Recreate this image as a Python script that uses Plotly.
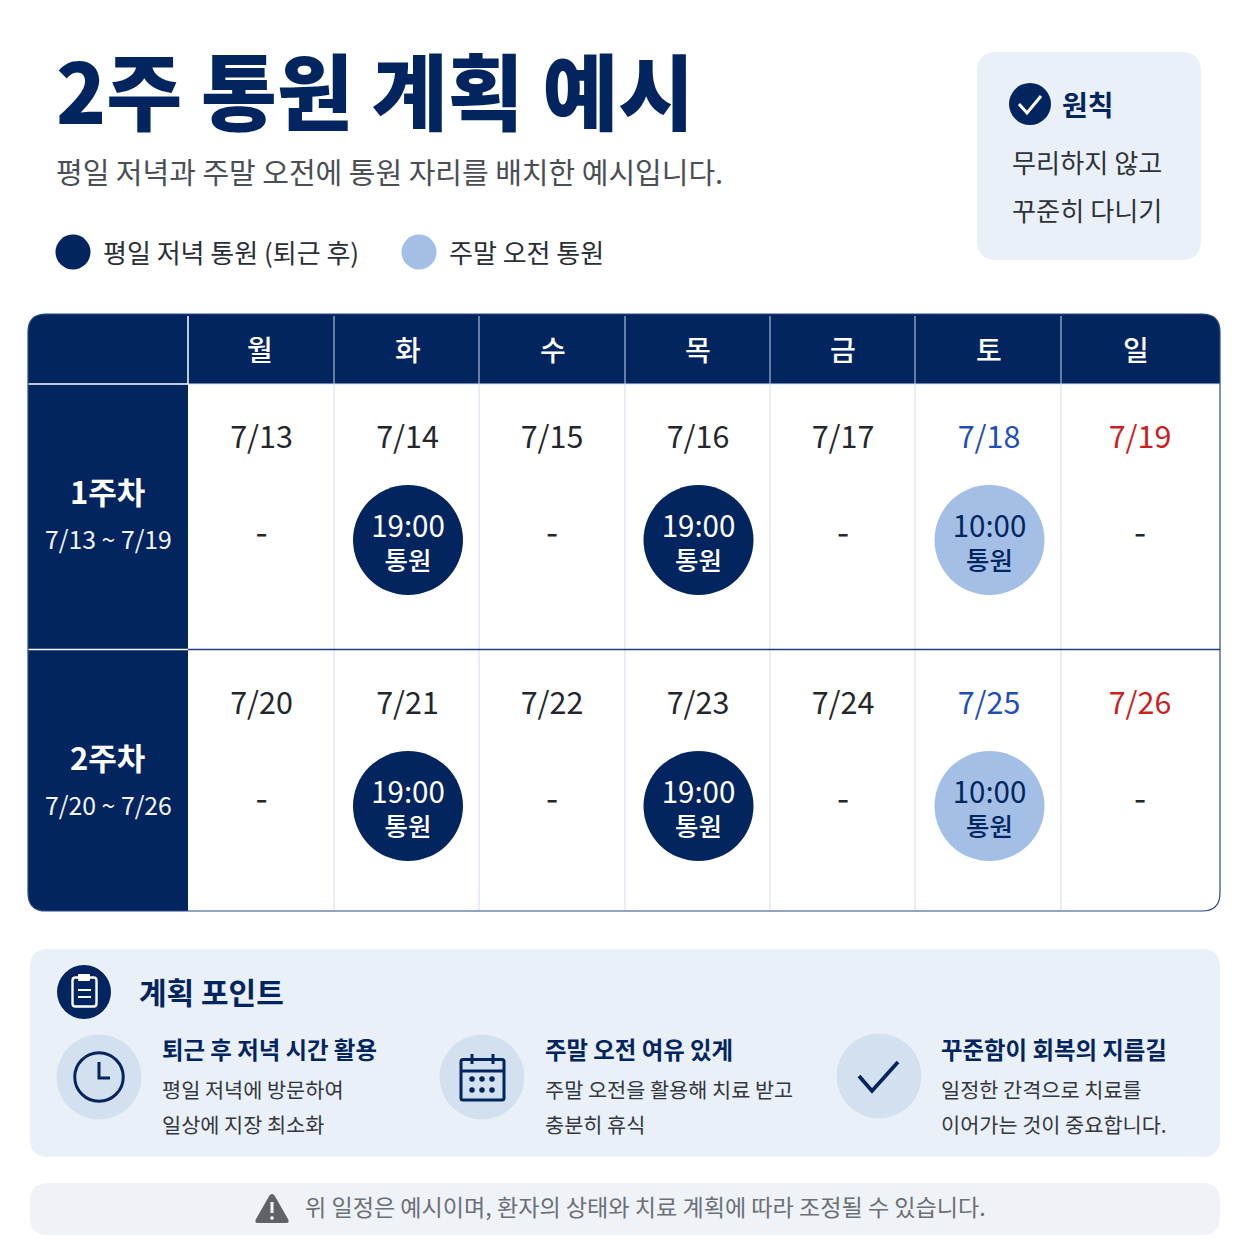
import plotly.graph_objects as go

# table content
day_names = ["월", "화", "수", "목", "금", "토", "일"]
week_names = ["1주차", "2주차"]
week_ranges = ["7/13 ~ 7/19", "7/20 ~ 7/26"]
week1_dates = ["7/13", "7/14", "7/15", "7/16", "7/17", "7/18", "7/19"]
week2_dates = ["7/20", "7/21", "7/22", "7/23", "7/24", "7/25", "7/26"]
visit_times = [None, "19:00", None, "19:00", None, "10:00", None]
visit_label = "통원"

# other text
title = "2주 통원 계획 예시"
subtitle = "평일 저녁과 주말 오전에 통원 자리를 배치한 예시입니다."
legend_labels = ["평일 저녁 통원 (퇴근 후)", "주말 오전 통원"]
rule_lines = ["무리하지 않고", "꾸준히 다니기"]
point_heads = ["퇴근 후 저녁 시간 활용", "주말 오전 여유 있게", "꾸준함이 회복의 지름길"]
point_line1 = ["평일 저녁에 방문하여", "주말 오전을 활용해 치료 받고", "일정한 간격으로 치료를"]
point_line2 = ["일상에 지장 최소화", "충분히 휴식", "이어가는 것이 중요합니다."]
note = "위 일정은 예시이며, 환자의 상태와 치료 계획에 따라 조정될 수 있습니다."

# layout of the table
col_edges = [188, 334, 479, 625, 770, 915, 1061]
col_centers = [261.5, 407.5, 552, 698, 843, 989, 1140]
head_centers = [260, 408, 553, 698, 843, 989, 1136]
week_tops = [384, 650]

NAVY = "#03255f"
LIGHT = "#a3bfe6"
CARD = "#eaf0f8"
ICON_BG = "#d3e0ef"
GRID = "#d9e2f1"
FONT = "Noto Sans CJK KR"


def rounded(x0, y0, x1, y1, tl=0, tr=0, br=0, bl=0):
    return (f"M{x0+tl},{y0} L{x1-tr},{y0} Q{x1},{y0} {x1},{y0+tr} "
            f"L{x1},{y1-br} Q{x1},{y1} {x1-br},{y1} "
            f"L{x0+bl},{y1} Q{x0},{y1} {x0},{y1-bl} "
            f"L{x0},{y0+tl} Q{x0},{y0} {x0+tl},{y0} Z")


shapes = []


def fill_path(path, color, layer="below"):
    shapes.append(dict(type="path", path=path, fillcolor=color, line_width=0, layer=layer))


def line_path(path, color=NAVY, width=2, layer="above"):
    shapes.append(dict(type="path", path=path, line=dict(color=color, width=width), layer=layer))


def circle(cx, cy, d, fill=None, color=None, width=0, layer="below"):
    shapes.append(dict(type="circle", x0=cx - d / 2, x1=cx + d / 2, y0=cy - d / 2, y1=cy + d / 2,
                       fillcolor=fill if fill else "rgba(0,0,0,0)",
                       line=dict(color=color if color else "rgba(0,0,0,0)", width=width), layer=layer))


annotations = []


def label(x, y, text, size, color="#2e3238", weight=400, anchor="left"):
    # left aligned text sits a little right and low of the given point, pull it back
    if anchor == "left":
        x -= 2.5
        y -= 1.5
    annotations.append(dict(x=x, y=y, text=text, showarrow=False, xanchor=anchor, yanchor="middle",
                            font=dict(family=FONT, size=size, color=color, weight=weight)))


# cards
fill_path(rounded(977, 52, 1201, 260, 20, 20, 20, 20), CARD)
fill_path(rounded(30, 949, 1220, 1157, 18, 18, 18, 18), CARD)
fill_path(rounded(30, 1183, 1220, 1235, 18, 18, 18, 18), "#eff2f7")

# table body, header and week column
fill_path(rounded(28, 314, 1220, 911, 18, 18, 18, 18), "#ffffff")
fill_path(rounded(28, 314, 1220, 384, 18, 18, 0, 0), NAVY)
fill_path(rounded(28, 384, 188, 911, 0, 0, 0, 18), NAVY)
for x in col_edges[1:]:
    line_path(f"M{x},384 L{x},911", GRID, 1.2, "below")
for x in col_edges:
    line_path(f"M{x},316 L{x},384", "#ffffff" if x == 188 else "#c9d5ea", 1.5 if x == 188 else 1, "below")
line_path("M28,384 L188,384", "#ffffff", 1.5, "below")
line_path("M188,384 L1220,384", GRID, 1, "below")
line_path("M28,649.5 L188,649.5", "#ffffff", 1.5, "below")
line_path("M188,649.5 L1220,649.5", "#1d3f7e", 1.5, "below")
line_path(rounded(28, 314, 1220, 911, 18, 18, 18, 18), "#2a4a86", 1.2, "below")

# title block
label(56, 89, title, 82.5, NAVY, 900)
label(56, 172.5, subtitle, 29, "#4a4e55")
circle(73, 252, 35, NAVY)
circle(419, 252, 35, LIGHT)
label(103, 252.5, legend_labels[0], 26, "#2a2e35")
label(449, 252.5, legend_labels[1], 26, "#2a2e35")

# principle card
circle(1030, 104, 42, NAVY)
line_path("M1019,104 L1027,113 L1041,96", "#ffffff", 3)
label(1062, 105.5, "원칙", 28, NAVY, 700)
label(1012, 163, rule_lines[0], 26.2)
label(1012, 211, rule_lines[1], 26.2)

# table head and week labels
for x, day in zip(head_centers, day_names):
    label(x, 349, day, 28, "#ffffff", 500, "center")
for top, name, span in zip(week_tops, week_names, week_ranges):
    label(107.5, top + 106.5, name, 31, "#ffffff", 700, "center")
    label(108.5, top + 154, span, 24.8, "#f2f5fb", 400, "center")

# points card
circle(84, 992, 54, NAVY)
line_path(rounded(72.5, 977.5, 96.5, 1006.5, 3, 3, 3, 3), "#ffffff", 2.4)
fill_path(rounded(78, 974, 90, 981, 1, 1, 1, 1), "#ffffff", "above")
line_path("M78,990 L91,990 M78,997 L91,997", "#ffffff", 2.2)
label(139, 992.5, "계획 포인트", 30, NAVY, 700)

circle(99, 1077, 85, ICON_BG)
circle(99, 1077, 48.5, None, NAVY, 3, "above")
line_path("M99,1062 L99,1078 L110,1078", NAVY, 3)

circle(482, 1077, 85, ICON_BG)
line_path(rounded(461, 1059.5, 504, 1100, 2, 2, 2, 2), NAVY, 3)
line_path("M461,1071 L504,1071 M472,1054 L472,1064 M493,1054 L493,1064", NAVY, 3)
for cx in [472, 482, 492]:
    for cy in [1079, 1090]:
        circle(cx, cy, 5.5, NAVY, layer="above")

circle(879, 1076, 85, ICON_BG)
line_path("M859,1076 L872,1091 L898,1062", NAVY, 3.8)

for x, head, l1, l2 in zip([162, 545, 941], point_heads, point_line1, point_line2):
    label(x, 1050.5, head, 23.4, NAVY, 700)
    label(x, 1090.5, l1, 20.8, "#33373e")
    label(x, 1125.5, l2, 20.8, "#33373e")

# footer
fill_path("M272,1194 Q274,1194 276,1198 L288,1219 Q290,1223 286,1223 L258,1223 Q254,1223 256,1219 "
          "L268,1198 Q270,1194 272,1194 Z", "#5f6368")
line_path("M272,1202 L272,1213", "#ffffff", 3)
circle(272, 1218, 3.5, "#ffffff", layer="above")
label(305, 1207.5, note, 23.1, "#6b6f76")

fig = go.Figure()

# dates, dashes and visit circles for each week
date_colors = ["#23262b"] * 5 + ["#1f4fb4", "#cc1f1f"]
for top, dates in zip(week_tops, [week1_dates, week2_dates]):
    fig.add_trace(go.Scatter(
        x=col_centers, y=[top + 56] * 7, mode="text", text=dates,
        textfont=dict(family=FONT, size=30.5, color=date_colors), cliponaxis=False, hoverinfo="skip"))
    empty = [x for x, t in zip(col_centers, visit_times) if t is None]
    fig.add_trace(go.Scatter(
        x=empty, y=[top + 152] * len(empty), mode="text", text=["-"] * len(empty),
        textfont=dict(family=FONT, size=35, color="#23262b"), cliponaxis=False, hoverinfo="skip"))
    visit_x = [x + 0.5 for x, t in zip(col_centers, visit_times) if t]
    times = [t for t in visit_times if t]
    marks = [NAVY if t.startswith("19") else LIGHT for t in times]
    inks = ["#ffffff" if t.startswith("19") else NAVY for t in times]
    fig.add_trace(go.Scatter(
        x=visit_x, y=[top + 156] * len(times), mode="markers",
        marker=dict(size=110, color=marks, line_width=0), hoverinfo="skip"))
    # one text per circle: the hour is a larger span over the smaller label
    fig.add_trace(go.Scatter(
        x=visit_x, y=[top + 163.5] * len(times), mode="text",
        text=[f"<span style='font-size:29.5px;font-weight:400'>{t}</span><br>{visit_label}" for t in times],
        textfont=dict(family=FONT, size=25.5, color=inks, weight=500), cliponaxis=False, hoverinfo="skip"))

fig.update_layout(
    width=1254, height=1254, margin=dict(l=0, r=0, t=0, b=0),
    paper_bgcolor="#ffffff", plot_bgcolor="#ffffff", showlegend=False,
    xaxis=dict(range=[0, 1254], visible=False, fixedrange=True),
    yaxis=dict(range=[1254, 0], visible=False, fixedrange=True),
    shapes=shapes, annotations=annotations)

fig.write_html("out.html", config={"displayModeBar": False},
               post_script="document.body.style.margin='0';document.body.style.overflow='hidden';")
